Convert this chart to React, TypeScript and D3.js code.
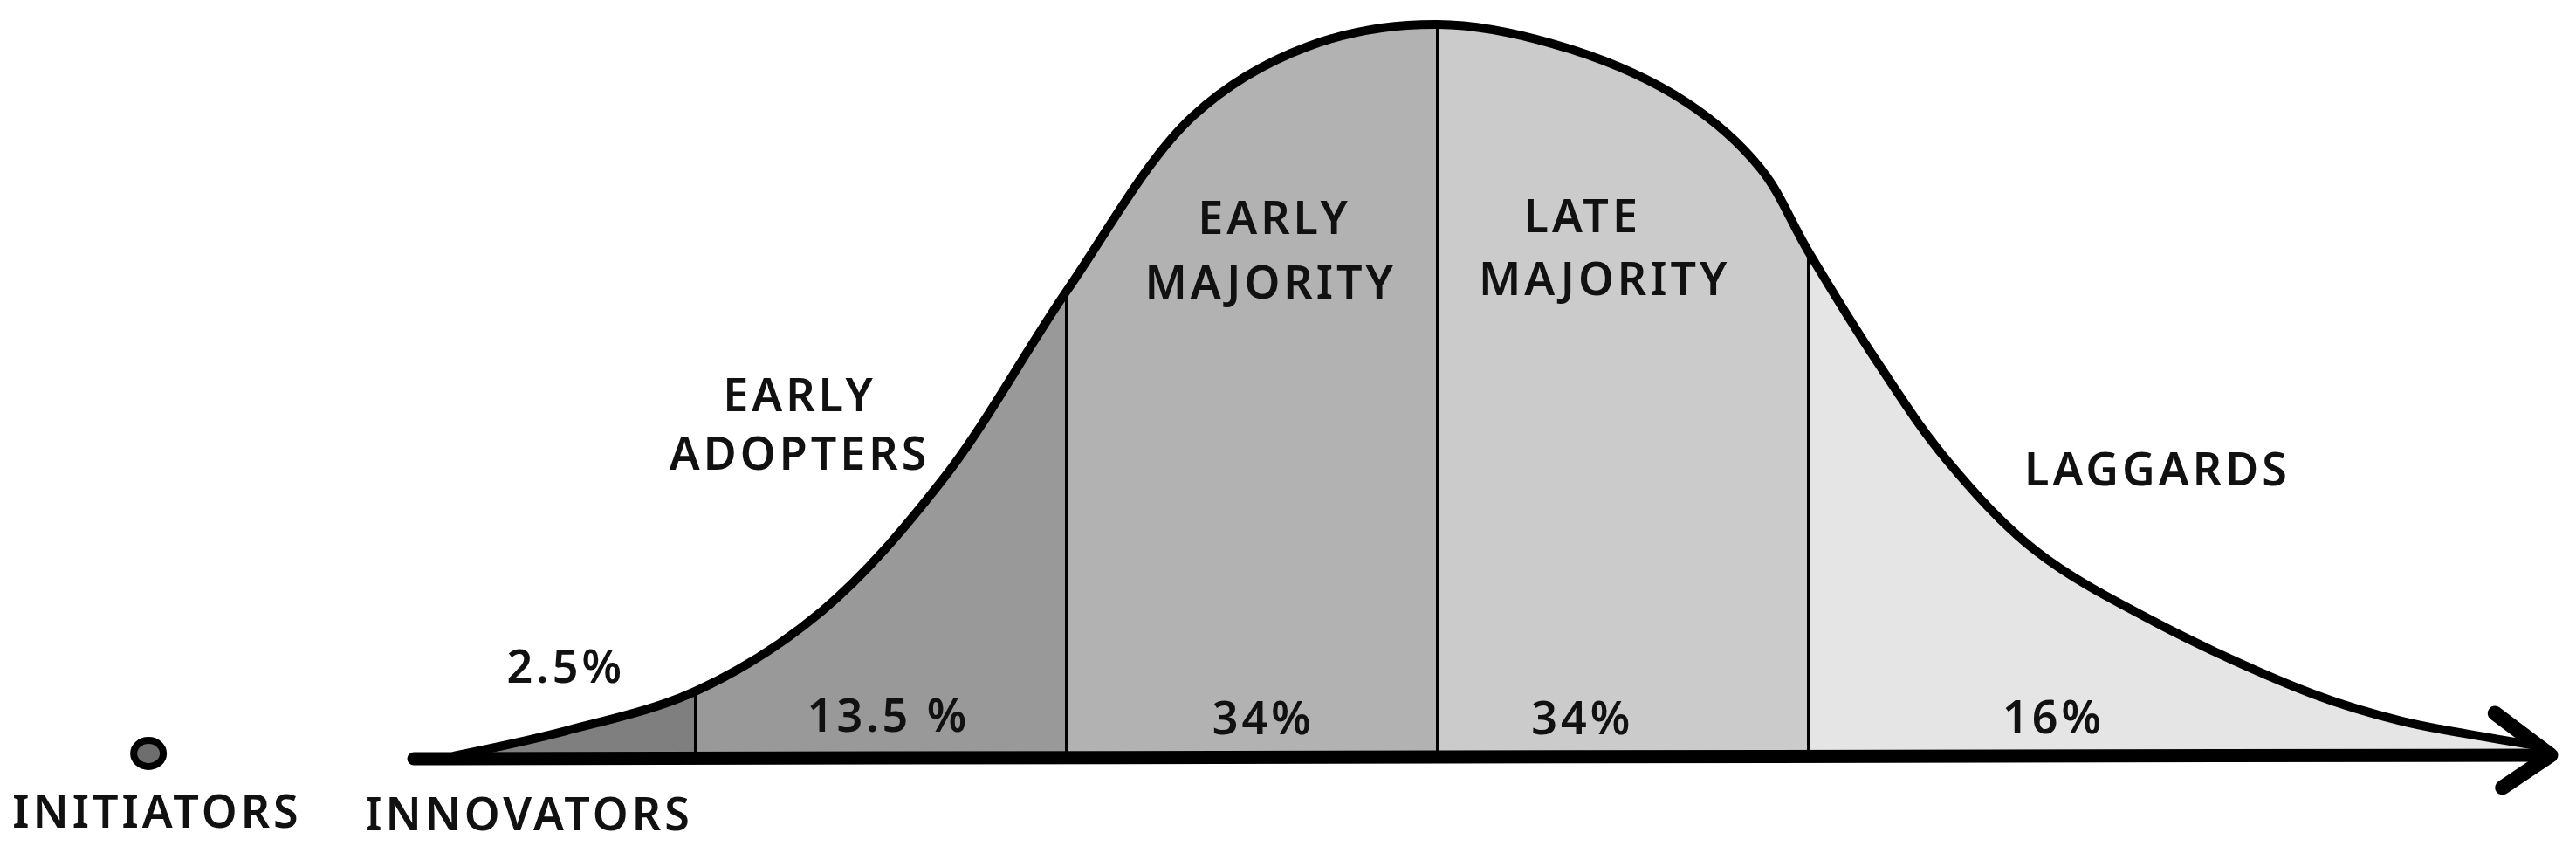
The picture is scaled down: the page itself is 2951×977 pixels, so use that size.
import React from 'react';
import { scaleLinear, line, area, curveCatmullRom } from 'd3';

// bell curve: x in standard deviations, height in % of peak
const curveX = [-2.65, -2.35, -2.0, -1.66, -1.33, -1.0, -0.66, -0.35, 0, 0.36, 0.67, 0.87, 1.0, 1.18, 1.37, 1.61, 1.93, 2.36, 2.6, 2.83, 2.96];
const curveY = [0.4, 3.8, 9.2, 20.1, 38.3, 63.7, 87.5, 97.0, 100, 96.6, 89.4, 80.4, 69.0, 54.4, 40.8, 28.4, 18.7, 8.8, 5.1, 2.9, 1.8];

const segments = ['INNOVATORS', 'EARLY ADOPTERS', 'EARLY MAJORITY', 'LATE MAJORITY', 'LAGGARDS'];
const shares = ['2.5%', '13.5 %', '34%', '34%', '16%'];
const bounds = [-2, -1, 0, 1];
const fills = ['#7f7f7f', '#999999', '#b2b2b2', '#cbcbcb', '#e5e5e5'];

const W = 2951;
const H = 977;
const font = '"Noto Sans", "DejaVu Sans", sans-serif';

const App = () => {
  const x = scaleLinear().domain([-3, 3]).range([372, 2922]);
  const y = scaleLinear().domain([0, 100]).range([869, 28]);

  const pts = curveX.map((v, i) => [v, curveY[i]] as [number, number]);

  const curveLine = line<[number, number]>()
    .x(d => x(d[0]))
    .y(d => y(d[1]))
    .curve(curveCatmullRom.alpha(0.5));

  const curveArea = area<[number, number]>()
    .x(d => x(d[0]))
    .y0(y(0))
    .y1(d => y(d[1]))
    .curve(curveCatmullRom.alpha(0.5));

  const edges = [-3.2, ...bounds, 3.2];
  const y0 = y(0);

  const txt = (s: string, cx: number, cy: number, key: string) => (
    <text key={key} x={cx} y={cy} textAnchor="middle" fontFamily={font} fontWeight={600}
      fontSize={52} letterSpacing={4} fill="#111">{s}</text>
  );

  return (
    <svg width={W} height={H} style={{ position: 'absolute', left: 0, top: 0, display: 'block', background: '#fff' }}>
      <defs>
        {segments.map((s, i) => (
          <clipPath id={'seg' + i} key={s}>
            <rect x={x(edges[i])} y={0} width={x(edges[i + 1]) - x(edges[i])} height={H} />
          </clipPath>
        ))}
      </defs>

      {segments.map((s, i) => (
        <path key={s} d={curveArea(pts) || ''} fill={fills[i]} clipPath={`url(#seg${i})`} />
      ))}

      {bounds.map(b => (
        <line key={b} x1={x(b)} x2={x(b)} y1={y0} y2={y(curveY[curveX.indexOf(b)])}
          stroke="#000" strokeWidth={4} />
      ))}

      <path d={curveLine(pts) || ''} fill="none" stroke="#000" strokeWidth={10} strokeLinecap="round" />

      {/* axis with arrow */}
      <line x1={x(-2.76)} x2={x(3.0)} y1={y0} y2={y0 - 4} stroke="#000" strokeWidth={15} strokeLinecap="round" />
      <polyline points={`${x(2.85)},${y0 - 52} ${x(3.0)},${y0 - 4} ${x(2.87)},${y0 + 33}`}
        fill="none" stroke="#000" strokeWidth={17} strokeLinecap="round" strokeLinejoin="round" />

      {/* initiators dot */}
      <ellipse cx={x(-3.475)} cy={y0 - 6} rx={17} ry={15} fill="#6e6e6e" stroke="#000" strokeWidth={8} />

      {txt('INITIATORS', 180, 948, 'ini')}
      {txt(segments[0], 606, 951, 'inn')}
      {txt('EARLY', x(-1.72), 471, 'ea1')}
      {txt('ADOPTERS', x(-1.72), 538, 'ea2')}
      {txt('EARLY', x(-0.44), 268, 'em1')}
      {txt('MAJORITY', x(-0.45), 342, 'em2')}
      {txt('LATE', x(0.39), 266, 'lm1')}
      {txt('MAJORITY', x(0.45), 338, 'lm2')}
      {txt(segments[4], x(1.94), 556, 'lag')}

      {txt(shares[0], x(-2.35), 782, 'p0')}
      {txt(shares[1], x(-1.48), 838, 'p1')}
      {txt(shares[2], x(-0.47), 841, 'p2')}
      {txt(shares[3], x(0.39), 841, 'p3')}
      {txt(shares[4], x(1.66), 840, 'p4')}
    </svg>
  );
};

export default App;
